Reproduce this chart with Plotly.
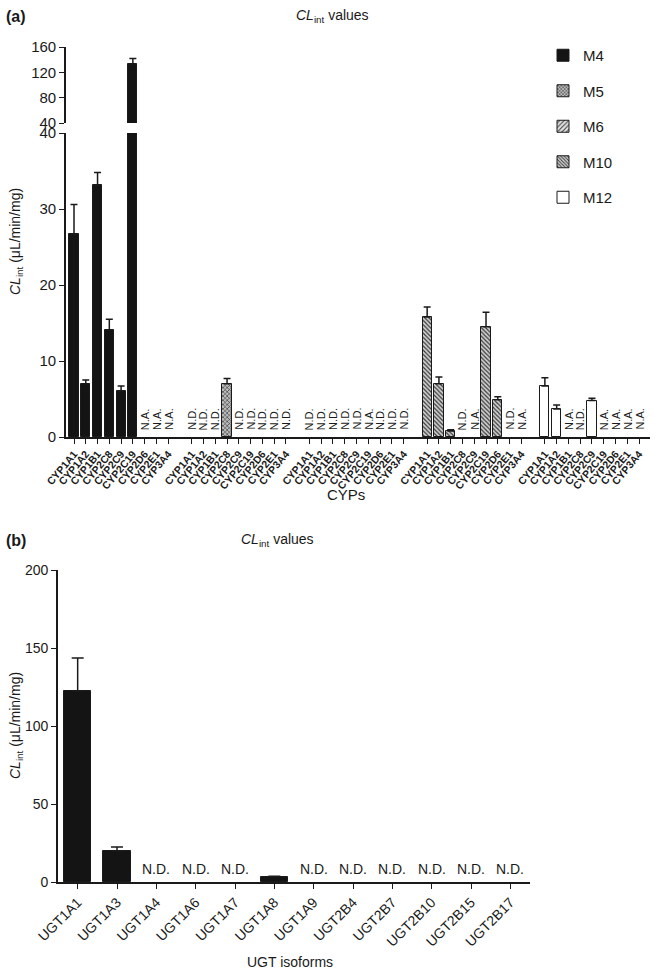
import plotly.graph_objects as go

W, H = 656, 973

# ---------------- data ----------------
cyp_isoforms = ["CYP1A1", "CYP1A2", "CYP1B1", "CYP2C8", "CYP2C9",
                "CYP2C19", "CYP2D6", "CYP2E1", "CYP3A4"]
metabolites = ["M4", "M5", "M6", "M10", "M12"]

m4_values = [26.7, 7.0, 33.1, 14.1, 6.0, 133.0, None, None, None]
m4_errors = [3.9, 0.5, 1.7, 1.4, 0.7, 9.0, None, None, None]
m4_labels = ["", "", "", "", "", "", "N.A.", "N.A.", "N.A."]

m5_values = [None, None, None, 7.0, None, None, None, None, None]
m5_errors = [None, None, None, 0.7, None, None, None, None, None]
m5_labels = ["N.D.", "N.D.", "N.D.", "", "N.D.", "N.D.", "N.D.", "N.D.", "N.D."]

m6_values = [None, None, None, None, None, None, None, None, None]
m6_errors = [None, None, None, None, None, None, None, None, None]
m6_labels = ["N.D.", "N.D.", "N.D.", "N.D.", "N.D.", "N.A.", "N.D.", "N.D.", "N.D."]

m10_values = [15.8, 7.0, 0.8, None, None, 14.5, 4.9, None, None]
m10_errors = [1.3, 0.9, 0.15, None, None, 1.9, 0.4, None, None]
m10_labels = ["", "", "", "N.D.", "N.A.", "", "", "N.D.", "N.A."]

m12_values = [6.7, 3.7, None, None, 4.8, None, None, None, None]
m12_errors = [1.1, 0.5, None, None, 0.3, None, None, None, None]
m12_labels = ["", "", "N.A.", "N.D.", "", "N.A.", "N.A.", "N.A.", "N.A."]

ugt_isoforms = ["UGT1A1", "UGT1A3", "UGT1A4", "UGT1A6", "UGT1A7", "UGT1A8",
                "UGT1A9", "UGT2B4", "UGT2B7", "UGT2B10", "UGT2B15", "UGT2B17"]
ugt_values = [122.4, 20.1, None, None, None, 3.3, None, None, None, None, None, None]
ugt_errors = [21.2, 2.3, None, None, None, 0.4, None, None, None, None, None, None]
ugt_labels = ["", "", "N.D.", "N.D.", "N.D.", "", "N.D.", "N.D.", "N.D.", "N.D.", "N.D.", "N.D."]

top_low_ticks = [0, 10, 20, 30, 40]
top_high_ticks = [40, 80, 120, 160]
bottom_ticks = [0, 50, 100, 150, 200]

# ---------------- styles ----------------
INK = "#1a1a1a"
FONT = "Liberation Sans, Arial, sans-serif"
styles = {
    "M4": dict(color="#141414", pattern=None),
    "M5": dict(color="#bdbdbd", pattern=dict(shape="x", fgcolor="#2a2a2a", bgcolor="#bdbdbd", size=3, solidity=0.35)),
    "M6": dict(color="#dddddd", pattern=dict(shape="/", fgcolor="#3a3a3a", bgcolor="#e0e0e0", size=4, solidity=0.3)),
    "M10": dict(color="#cccccc", pattern=dict(shape="\\", fgcolor="#3a3a3a", bgcolor="#cfcfcf", size=3, solidity=0.4)),
    "M12": dict(color="#ffffff", pattern=None),
}
series = {
    "M4": (m4_values, m4_errors, m4_labels),
    "M5": (m5_values, m5_errors, m5_labels),
    "M6": (m6_values, m6_errors, m6_labels),
    "M10": (m10_values, m10_errors, m10_labels),
    "M12": (m12_values, m12_errors, m12_labels),
}

def px(x):
    return x / W

def py(y):
    return 1 - y / H

GROUP_STRIDE = 10  # 9 isoforms + one blank slot

fig = go.Figure()
annotations = []
tickvals, ticktext = [], []

for g, name in enumerate(metabolites):
    vals, errs, labels = series[name]
    xs = [g * GROUP_STRIDE + i for i in range(len(cyp_isoforms))]
    tickvals += xs
    ticktext += cyp_isoforms
    st = styles[name]
    marker = dict(color=st["color"], line=dict(color=INK, width=1))
    if st["pattern"]:
        marker["pattern"] = st["pattern"]
    low_err = [(e if (v is not None and v <= 40) else 0) for v, e in zip(vals, errs)]
    fig.add_trace(go.Bar(
        x=xs, y=vals, name=name, marker=marker, width=0.78,
        legendgroup=name, showlegend=True,
        error_y=dict(type="data", symmetric=False, array=low_err,
                     arrayminus=[0] * len(vals), color=INK, thickness=1.5, width=3.5),
        xaxis="x", yaxis="y",
    ))
    if any(v is not None and v > 40 for v in vals):
        fig.add_trace(go.Bar(
            x=xs, y=vals, name=name, marker=marker, width=0.78,
            legendgroup=name, showlegend=False,
            error_y=dict(type="data", symmetric=False, array=errs,
                         arrayminus=[0] * len(vals), color=INK, thickness=1.5, width=3.5),
            xaxis="x", yaxis="y2",
        ))
    for xv, lab in zip(xs, labels):
        if lab:
            annotations.append(dict(
                x=xv, y=0, xref="x", yref="y", text=lab, showarrow=False,
                textangle=-90, xanchor="center", yanchor="bottom", yshift=5,
                font=dict(size=11, color=INK, family=FONT),
            ))

ugt_x = list(range(len(ugt_isoforms)))
fig.add_trace(go.Bar(
    x=ugt_x, y=ugt_values, showlegend=False, width=0.7,
    marker=dict(color="#141414", line=dict(color=INK, width=1)),
    error_y=dict(type="data", symmetric=False, array=ugt_errors,
                 arrayminus=[0] * len(ugt_values), color=INK, thickness=1.5, width=6),
    xaxis="x3", yaxis="y3",
))
for xv, lab in zip(ugt_x, ugt_labels):
    if lab:
        annotations.append(dict(
            x=xv, y=0, xref="x3", yref="y3", text=lab, showarrow=False,
            xanchor="center", yanchor="bottom", yshift=3,
            font=dict(size=14, color=INK, family=FONT),
        ))

title_html = "<i>CL</i><sub>int</sub> values"
ytitle_html = "<i>CL</i><sub>int</sub> (μL/min/mg)"
annotations += [
    dict(x=px(4), y=py(16), xref="paper", yref="paper", text="<b>(a)</b>", showarrow=False,
         xanchor="left", yanchor="middle", font=dict(size=16, color=INK, family=FONT)),
    dict(x=px(333), y=py(16), xref="paper", yref="paper", text=title_html, showarrow=False,
         xanchor="center", yanchor="middle", font=dict(size=14, color=INK, family=FONT)),
    dict(x=px(16), y=py(242), xref="paper", yref="paper", text=ytitle_html, showarrow=False,
         textangle=-90, xanchor="center", yanchor="middle", font=dict(size=14, color=INK, family=FONT)),
    dict(x=px(346), y=py(494), xref="paper", yref="paper", text="CYPs", showarrow=False,
         xanchor="center", yanchor="middle", font=dict(size=15, color=INK, family=FONT)),
    dict(x=px(4), y=py(540), xref="paper", yref="paper", text="<b>(b)</b>", showarrow=False,
         xanchor="left", yanchor="middle", font=dict(size=16, color=INK, family=FONT)),
    dict(x=px(277), y=py(540), xref="paper", yref="paper", text=title_html, showarrow=False,
         xanchor="center", yanchor="middle", font=dict(size=14, color=INK, family=FONT)),
    dict(x=px(16), y=py(726), xref="paper", yref="paper", text=ytitle_html, showarrow=False,
         textangle=-90, xanchor="center", yanchor="middle", font=dict(size=14, color=INK, family=FONT)),
    dict(x=px(290), y=py(962), xref="paper", yref="paper", text="UGT isoforms", showarrow=False,
         xanchor="center", yanchor="middle", font=dict(size=14, color=INK, family=FONT)),
]

axis_common = dict(showline=True, linecolor=INK, linewidth=1.6, ticks="outside",
                   tickcolor=INK, tickwidth=1.4, ticklen=5, showgrid=False, zeroline=False,
                   automargin=False)

fig.update_layout(
    template="none",
    width=W, height=H,
    margin=dict(l=0, r=0, t=0, b=0, pad=0, autoexpand=False),
    paper_bgcolor="white", plot_bgcolor="white",
    barmode="overlay", bargap=0,
    font=dict(family=FONT, color=INK),
    showlegend=True,
    legend=dict(x=px(543), y=py(39), xanchor="left", yanchor="top",
                font=dict(size=15, color=INK, family=FONT),
                tracegroupgap=13, itemwidth=30, bgcolor="rgba(0,0,0,0)", borderwidth=0),
    xaxis=dict(domain=[px(66), px(650)], range=[-0.68, 48.93], anchor="y",
               tickmode="array", tickvals=tickvals, ticktext=ticktext, tickangle=-50,
               tickfont=dict(size=10.5, color=INK, family=FONT, weight="bold"), **axis_common),
    yaxis=dict(domain=[py(437), py(133)], range=[0, 40], anchor="x",
               tickmode="array", tickvals=top_low_ticks,
               tickfont=dict(size=15, color=INK, family=FONT), **axis_common),
    yaxis2=dict(domain=[py(123), py(47)], range=[40, 160], anchor="x",
                tickmode="array", tickvals=top_high_ticks,
                tickfont=dict(size=15, color=INK, family=FONT), **axis_common),
    xaxis3=dict(domain=[px(58), px(530)], range=[-0.5, 11.5], anchor="y3",
                tickmode="array", tickvals=ugt_x, ticktext=ugt_isoforms, tickangle=-45,
                tickfont=dict(size=14, color=INK, family=FONT), **axis_common),
    yaxis3=dict(domain=[py(882), py(570)], range=[0, 200], anchor="x3",
                tickmode="array", tickvals=bottom_ticks,
                tickfont=dict(size=14, color=INK, family=FONT), **axis_common),
    annotations=annotations,
)

fig.write_html("out.html", config={"displayModeBar": False},
               post_script="document.body.style.margin='0px';document.body.style.overflow='hidden';")
